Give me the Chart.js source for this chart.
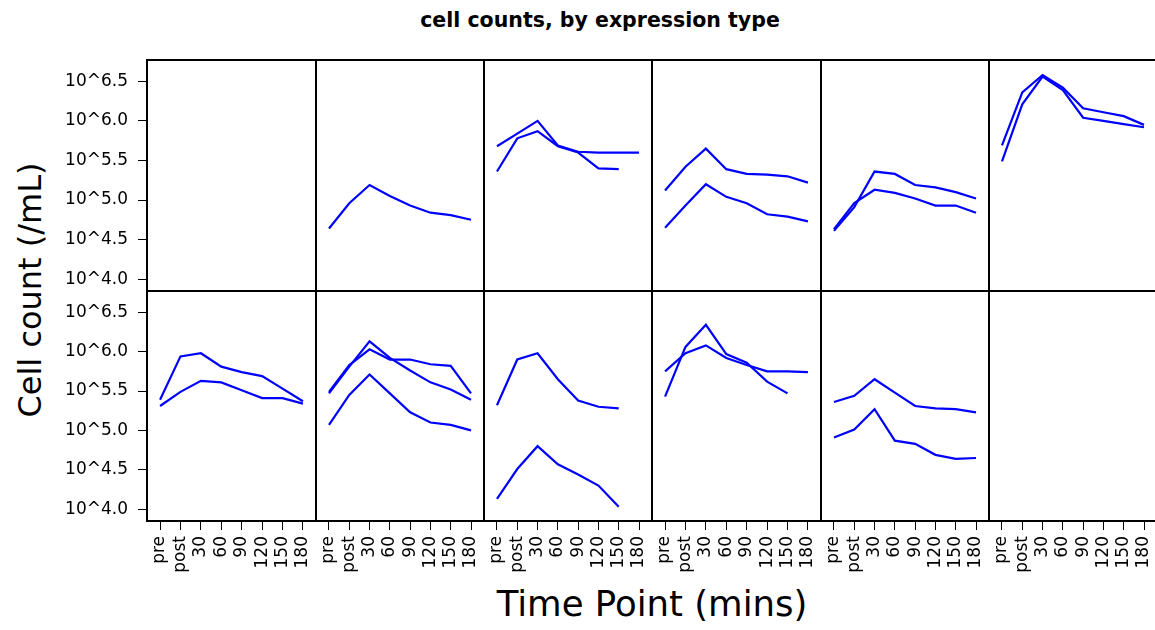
<!DOCTYPE html>
<html>
<head>
<meta charset="utf-8">
<script src="https://cdn.jsdelivr.net/npm/chart.js@4.4.1/dist/chart.umd.min.js"></script>
<style>
  html, body { margin: 0; padding: 0; background: #fff; overflow: hidden; }
  #wrap { position: relative; width: 1155px; height: 630px; overflow: hidden; font-family: "DejaVu Sans", sans-serif; }
  #wrap canvas { position: absolute; }
  .txt { position: absolute; white-space: nowrap; color: #000; }
</style>
</head>
<body>
<div id="wrap">
  <div class="txt" id="title" style="left:600px; top:20px; transform:translate(-50%,-50%); font-weight:bold; font-size:20.5px;">cell counts, by expression type</div>
  <div class="txt" id="ylab" style="left:30px; top:290px; transform:translate(-50%,-50%) rotate(-90deg); font-size:32px;">Cell count (/mL)</div>
  <div class="txt" id="xlab" style="left:652px; top:603px; transform:translate(-50%,-50%); font-size:35.5px;">Time Point (mins)</div>
</div>
<script>
// time points and y ticks (log10 cell counts)
const timeLabels = ["pre", "post", "30", "60", "90", "120", "150", "180"];
const yTickValues = [4.0, 4.5, 5.0, 5.5, 6.0, 6.5];

// top row series
const t2a = [4.64, 4.96, 5.19, 5.05, 4.93, 4.84, 4.81, 4.75];
const t3a = [5.68, 5.84, 6.00, 5.69, 5.61, 5.60, 5.60, 5.60];
const t3b = [5.36, 5.78, 5.87, 5.68, 5.60, 5.40, 5.39, null];
const t4a = [5.12, 5.42, 5.65, 5.39, 5.33, 5.32, 5.30, 5.22];
const t4b = [4.65, 4.93, 5.20, 5.04, 4.96, 4.82, 4.79, 4.73];
const t5a = [4.61, 4.91, 5.36, 5.33, 5.19, 5.16, 5.10, 5.02];
const t5b = [4.63, 4.96, 5.13, 5.09, 5.02, 4.93, 4.93, 4.84];
const t6a = [5.69, 6.36, 6.58, 6.42, 6.16, 6.11, 6.06, 5.95];
const t6b = [5.49, 6.21, 6.56, 6.39, 6.04, 6.00, 5.96, 5.92];

// bottom row series
const b1a = [5.39, 5.94, 5.98, 5.81, 5.74, 5.69, 5.53, 5.37];
const b1b = [5.31, 5.49, 5.63, 5.61, 5.51, 5.41, 5.41, 5.34];
const b2a = [5.47, 5.81, 6.13, 5.92, 5.76, 5.61, 5.52, 5.39];
const b2b = [5.49, 5.83, 6.03, 5.90, 5.90, 5.84, 5.82, 5.47];
const b2c = [5.07, 5.45, 5.71, 5.47, 5.23, 5.10, 5.07, 5.00];
const b3a = [5.32, 5.90, 5.98, 5.65, 5.38, 5.30, 5.28, null];
const b3b = [4.13, 4.51, 4.80, 4.57, 4.44, 4.30, 4.03, null];
const b4a = [5.43, 6.06, 6.34, 5.97, 5.86, 5.62, 5.47, null];
const b4b = [5.75, 5.98, 6.08, 5.92, 5.83, 5.75, 5.75, 5.74];
const b5a = [5.36, 5.44, 5.65, 5.48, 5.31, 5.28, 5.27, 5.23];
const b5b = [4.91, 5.01, 5.27, 4.87, 4.83, 4.69, 4.64, 4.65];

const topRow = [[], [t2a], [t3a, t3b], [t4a, t4b], [t5a, t5b], [t6a, t6b]];
const bottomRow = [[b1a, b1b], [b2a, b2b, b2c], [b3a, b3b], [b4a, b4b], [b5a, b5b], []];

// panel grid (px)
const colEdges = [147, 316, 484, 652, 821, 989, 1157];
const rowEdges = [60, 291, 521];
const PAGE_H = 630;

Chart.defaults.font.family = "'DejaVu Sans', sans-serif";
Chart.defaults.color = "#000";

const framePlugin = {
  id: "frame",
  afterDraw(chart) {
    const a = chart.chartArea, ctx = chart.ctx;
    ctx.save();
    ctx.strokeStyle = "#000";
    ctx.lineWidth = 2;
    ctx.strokeRect(a.left, a.top, a.right - a.left, a.bottom - a.top);
    ctx.restore();
  }
};

function makePanel(row, col, series) {
  const left = colEdges[col], right = colEdges[col + 1];
  const top = rowEdges[row], bottom = rowEdges[row + 1];
  const showY = col === 0, showX = row === 1;
  const pad = { left: showY ? 0 : 2, right: 2, top: 2, bottom: showX ? 0 : 2 };
  const cLeft = showY ? 0 : left - 2;
  const cTop = top - 2;
  const cRight = right + 2;
  const cBottom = showX ? PAGE_H : bottom + 2;

  const canvas = document.createElement("canvas");
  canvas.width = cRight - cLeft;
  canvas.height = cBottom - cTop;
  canvas.style.left = cLeft + "px";
  canvas.style.top = cTop + "px";
  canvas.style.width = canvas.width + "px";
  canvas.style.height = canvas.height + "px";
  document.getElementById("wrap").appendChild(canvas);

  new Chart(canvas.getContext("2d"), {
    type: "line",
    data: {
      datasets: series.map(s => ({
        data: s.map((v, i) => ({ x: i, y: v })),
        borderColor: "#0000ff",
        borderWidth: 2.2,
        pointRadius: 0,
        fill: false,
        tension: 0
      }))
    },
    options: {
      responsive: false,
      animation: false,
      layout: { padding: pad },
      plugins: { legend: { display: false }, tooltip: { enabled: false }, title: { display: false } },
      scales: {
        x: {
          type: "linear",
          min: -0.64,
          max: 7.64,
          display: showX,
          afterBuildTicks: s => { s.ticks = timeLabels.map((_, i) => ({ value: i })); },
          afterFit: s => {
            s.height = showX ? PAGE_H - rowEdges[2] : 0;
            s.paddingLeft = 0; s.paddingRight = 0; s.paddingTop = 0; s.paddingBottom = 0;
          },
          ticks: {
            autoSkip: false,
            minRotation: 90,
            maxRotation: 90,
            padding: 6,
            font: { size: 17 },
            color: "#000",
            callback: v => timeLabels[v]
          },
          grid: { display: true, drawOnChartArea: false, drawTicks: true, tickLength: 9, color: "#000", lineWidth: 1 },
          border: { display: false }
        },
        y: {
          type: "linear",
          min: 3.85,
          max: 6.77,
          display: showY,
          afterBuildTicks: s => { s.ticks = yTickValues.map(v => ({ value: v })); },
          afterFit: s => {
            s.width = showY ? colEdges[0] : 0;
            s.paddingLeft = 0; s.paddingRight = 0; s.paddingTop = 0; s.paddingBottom = 0;
          },
          ticks: {
            padding: 10,
            font: { size: 17 },
            color: "#000",
            callback: v => "10^" + v.toFixed(1)
          },
          grid: { display: true, drawOnChartArea: false, drawTicks: true, tickLength: 9, color: "#000", lineWidth: 1 },
          border: { display: false }
        }
      }
    },
    plugins: [framePlugin]
  });
}

topRow.forEach((series, c) => makePanel(0, c, series));
bottomRow.forEach((series, c) => makePanel(1, c, series));
</script>
</body>
</html>
